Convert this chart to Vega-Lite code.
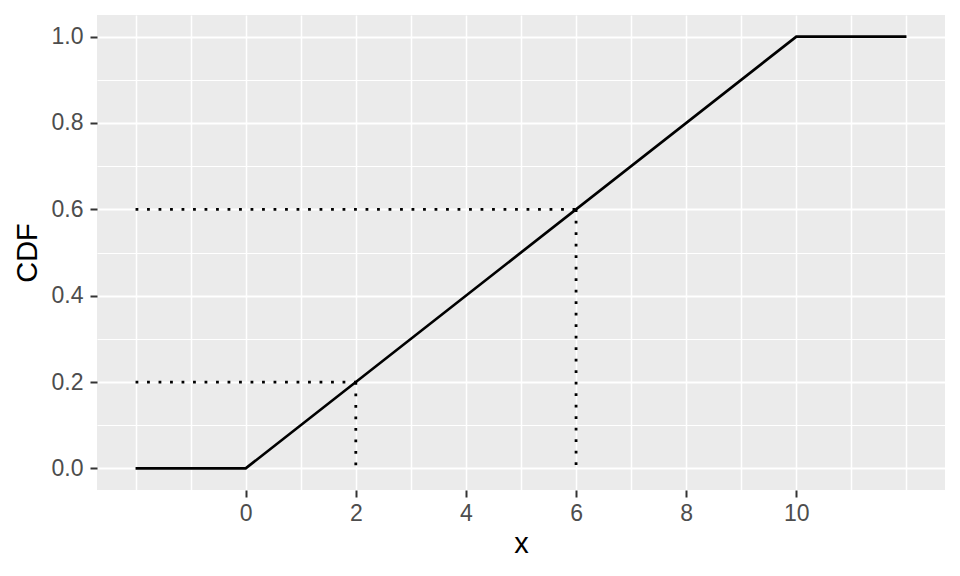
{
  "$schema": "https://vega.github.io/schema/vega-lite/v6.json",
  "width": 848,
  "height": 475,
  "autosize": {"type": "none"},
  "padding": {"left": 97, "top": 15, "right": 15, "bottom": 86},
  "background": "white",
  "config": {
    "view": {"fill": "#EBEBEB", "stroke": null},
    "font": "Liberation Sans",
    "axis": {
      "domain": false,
      "gridColor": "white",
      "tickColor": "#333333",
      "tickWidth": 2,
      "tickSize": 7,
      "labelFont": "Liberation Sans",
      "labelFontSize": 23,
      "labelColor": "#4D4D4D",
      "labelPadding": 5,
      "labelFlush": false,
      "labelOverlap": false,
      "titleFont": "Liberation Sans",
      "titleFontSize": 29,
      "titleFontWeight": "normal",
      "titleColor": "black"
    }
  },
  "datasets": {
    "cdf": [
      {"x": -2, "F": 0},
      {"x": 0, "F": 0},
      {"x": 10, "F": 1},
      {"x": 12, "F": 1}
    ],
    "guides": [
      {"x": -2, "y": 0.2, "x2": 2, "y2": 0.2},
      {"x": 2, "y": 0.2, "x2": 2, "y2": 0},
      {"x": -2, "y": 0.6, "x2": 6, "y2": 0.6},
      {"x": 6, "y": 0.6, "x2": 6, "y2": 0}
    ]
  },
  "layer": [
    {
      "data": {"name": "guides"},
      "mark": {"type": "rule", "color": "black", "strokeWidth": 2.8, "strokeDash": [2.8, 8.7], "strokeCap": "butt"},
      "encoding": {
        "x": {
          "field": "x", "type": "quantitative",
          "scale": {"domain": [-2.7, 12.7], "nice": false, "zero": false},
          "axis": {
            "title": "x",
            "values": [-2, -1, 0, 1, 2, 3, 4, 5, 6, 7, 8, 9, 10, 11, 12],
            "format": "d",
            "grid": true,
            "gridWidth": 1.5,
            "labelExpr": "(datum.value >= 0 && datum.value <= 10 && datum.value % 2 == 0) ? format(datum.value, 'd') : ''",
            "tickOpacity": {"condition": {"test": "datum.value >= 0 && datum.value <= 10 && datum.value % 2 == 0", "value": 1}, "value": 0},
            "titlePadding": 4
          }
        },
        "y": {
          "field": "y", "type": "quantitative",
          "scale": {"domain": [-0.05, 1.05], "nice": false, "zero": false},
          "axis": {
            "title": "CDF",
            "values": [0, 0.1, 0.2, 0.3, 0.4, 0.5, 0.6, 0.7, 0.8, 0.9, 1.0],
            "grid": true,
            "format": ".1f",
            "gridWidth": {"condition": {"test": "abs(datum.value * 5 - round(datum.value * 5)) < 0.000001", "value": 1.8}, "value": 1.1},
            "labelExpr": "abs(datum.value * 5 - round(datum.value * 5)) < 0.000001 ? format(datum.value, '.1f') : ''",
            "tickOpacity": {"condition": {"test": "abs(datum.value * 5 - round(datum.value * 5)) < 0.000001", "value": 1}, "value": 0},
            "labelPadding": 7,
            "titlePadding": 9
          }
        },
        "x2": {"field": "x2"},
        "y2": {"field": "y2"}
      }
    },
    {
      "data": {"name": "cdf"},
      "mark": {"type": "line", "color": "black", "strokeWidth": 2.7},
      "encoding": {
        "x": {"field": "x", "type": "quantitative"},
        "y": {"field": "F", "type": "quantitative"}
      }
    }
  ]
}
